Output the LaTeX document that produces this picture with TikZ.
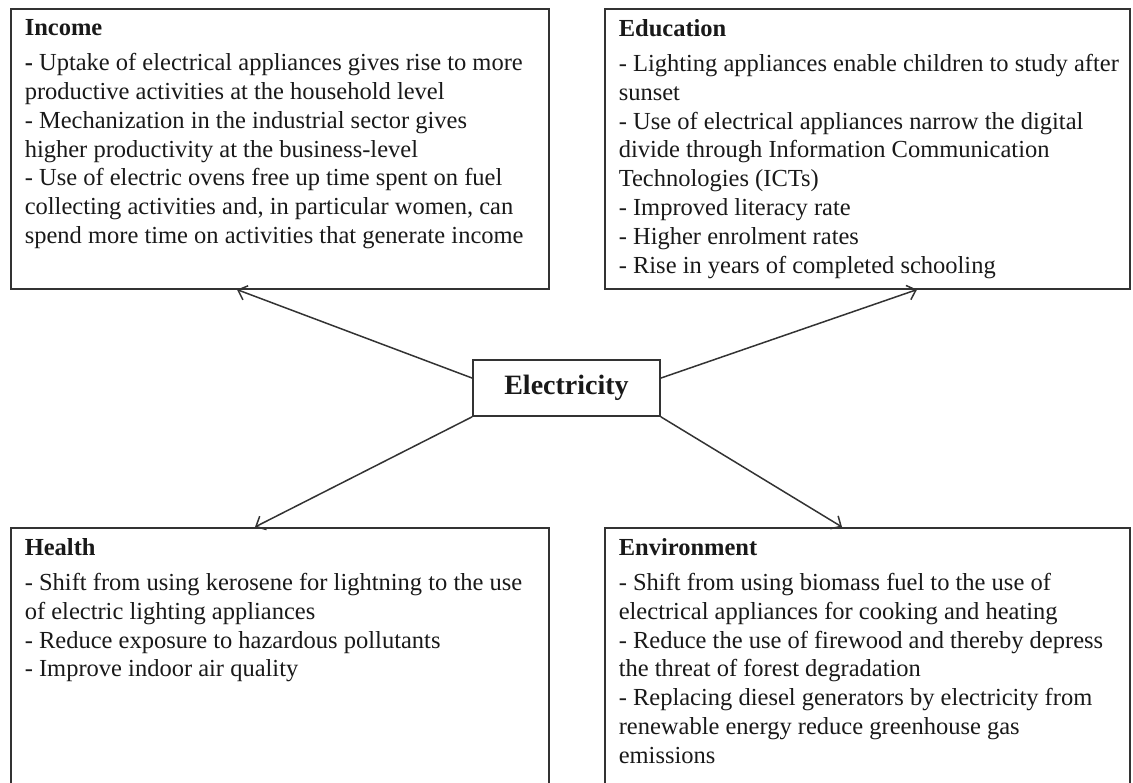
\documentclass[tikz,border=0pt]{standalone}
\usepackage{fontspec}
\setmainfont{Liberation Serif}
\usetikzlibrary{arrows.meta}
\hfuzz=30pt
\tikzstyle{topic}=[draw=black!80,line width=1.6pt,anchor=north west,inner xsep=14pt,inner ysep=11pt,text=black!90]
\tikzstyle{hub}=[draw=black!80,line width=1.6pt,minimum width=187pt,minimum height=56pt,text=black!90,font=\fontsize{28}{30}\selectfont\bfseries]
\tikzstyle{edge}=[draw=black!80,line width=1.5pt,-{Straight Barb[length=8pt,width=15pt]}]
\newcommand{\topictext}[3]{\parbox[t][258pt][t]{#1}{\fontsize{24.5}{28.8}\selectfont\textbf{#2}\par\vspace{6pt}#3}}

\begin{document}
\begin{tikzpicture}[x=1pt,y=-1pt]
          \clip (0,0) rectangle (1133,783);
          \node[topic] (income) at (10,8) {\topictext{510pt}{Income}{\textbf{-} Uptake of electrical appliances gives rise to more\\
            productive activities at the household level\\
            - Mechanization in the industrial sector gives\\
            higher productivity at the business-level\\
            - Use of electric ovens free up time spent on fuel\\
            collecting activities and, in particular women, can\\
            spend more time on activities that generate income}};
          \node[topic] (education) at (604,8) {\topictext{497pt}{Education}{\mbox{- Lighting appliances enable children to study after}\\
            sunset\\
            - Use of electrical appliances narrow the digital\\
            divide through Information Communication\\
            Technologies (ICTs)\\
            - Improved literacy rate\\
            - Higher enrolment rates\\
            - Rise in years of completed schooling}};
          \node[topic] (health) at (10,527) {\topictext{510pt}{Health}{- Shift from using kerosene for lightning to the use\\
            of electric lighting appliances\\
            - Reduce exposure to hazardous pollutants\\
            - Improve indoor air quality}};
          \node[topic] (environment) at (604,527) {\topictext{497pt}{Environment}{- Shift from using biomass fuel to the use of\\
            electrical appliances for cooking and heating\\
            - Reduce the use of firewood and thereby depress\\
            the threat of forest degradation\\
            - Replacing diesel generators by electricity from\\
            renewable energy reduce greenhouse gas\\
            emissions}};
          \node[hub] (elec) at (566.5,388) {Electricity};
          \draw[edge] (elec.174) -- ([xshift=227pt]income.south west);
          \draw[edge] (elec.6) -- ([xshift=313pt]education.south west);
          \draw[edge] (elec.south west) -- ([xshift=245pt]health.north west);
          \draw[edge] (elec.south east) -- ([xshift=238pt]environment.north west);
\end{tikzpicture}
\end{document}
